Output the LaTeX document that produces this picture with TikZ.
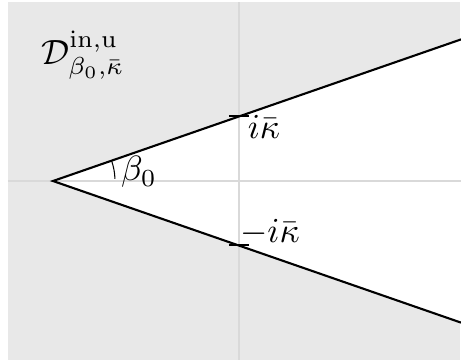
\documentclass[tikz,border=0pt]{standalone}
\begin{document}
\begin{tikzpicture}[x=0.285pt,y=-0.285pt,
  wedge/.style={line width=0.6pt,black},
  axis/.style={draw=black!15,line width=0.3pt},
  tick/.style={line width=0.6pt,black},
  lab/.style={inner sep=0pt,anchor=center}]
\useasboundingbox (0,0) rectangle (461,362);
\fill[black!9] (8,2) rectangle (460.5,360);
\coordinate (O) at (53,181);
\coordinate (U) at (461,39.4);
\coordinate (L) at (461,322.6);
\fill[white] (O) -- (U) -- (L) -- cycle;
\draw[axis] (8,181) -- (461,181);
\draw[axis] (239,2) -- (239,360);
\draw[wedge] (U) -- (O) -- (L);
\coordinate (T1a) at (229,116);
\coordinate (T1b) at (249,116);
\coordinate (T2a) at (229,245);
\coordinate (T2b) at (249,245);
\draw[tick] (T1a) -- (T1b);
\draw[tick] (T2a) -- (T2b);
\draw[line width=0.3pt] (O) ++(-2:62) arc[start angle=-2,end angle=-19,radius=62];
\node[lab] (D) at (83,55) {$\mathcal{D}^{\mathrm{in},\mathrm{u}}_{\beta_0,\bar\kappa}$};
\node[lab] (b) at (139,172) {$\beta_0$};
\node[lab] (k1) at (264,127) {$i\bar\kappa$};
\node[lab] (k2) at (270,232) {$-i\bar\kappa$};
\end{tikzpicture}
\end{document}
